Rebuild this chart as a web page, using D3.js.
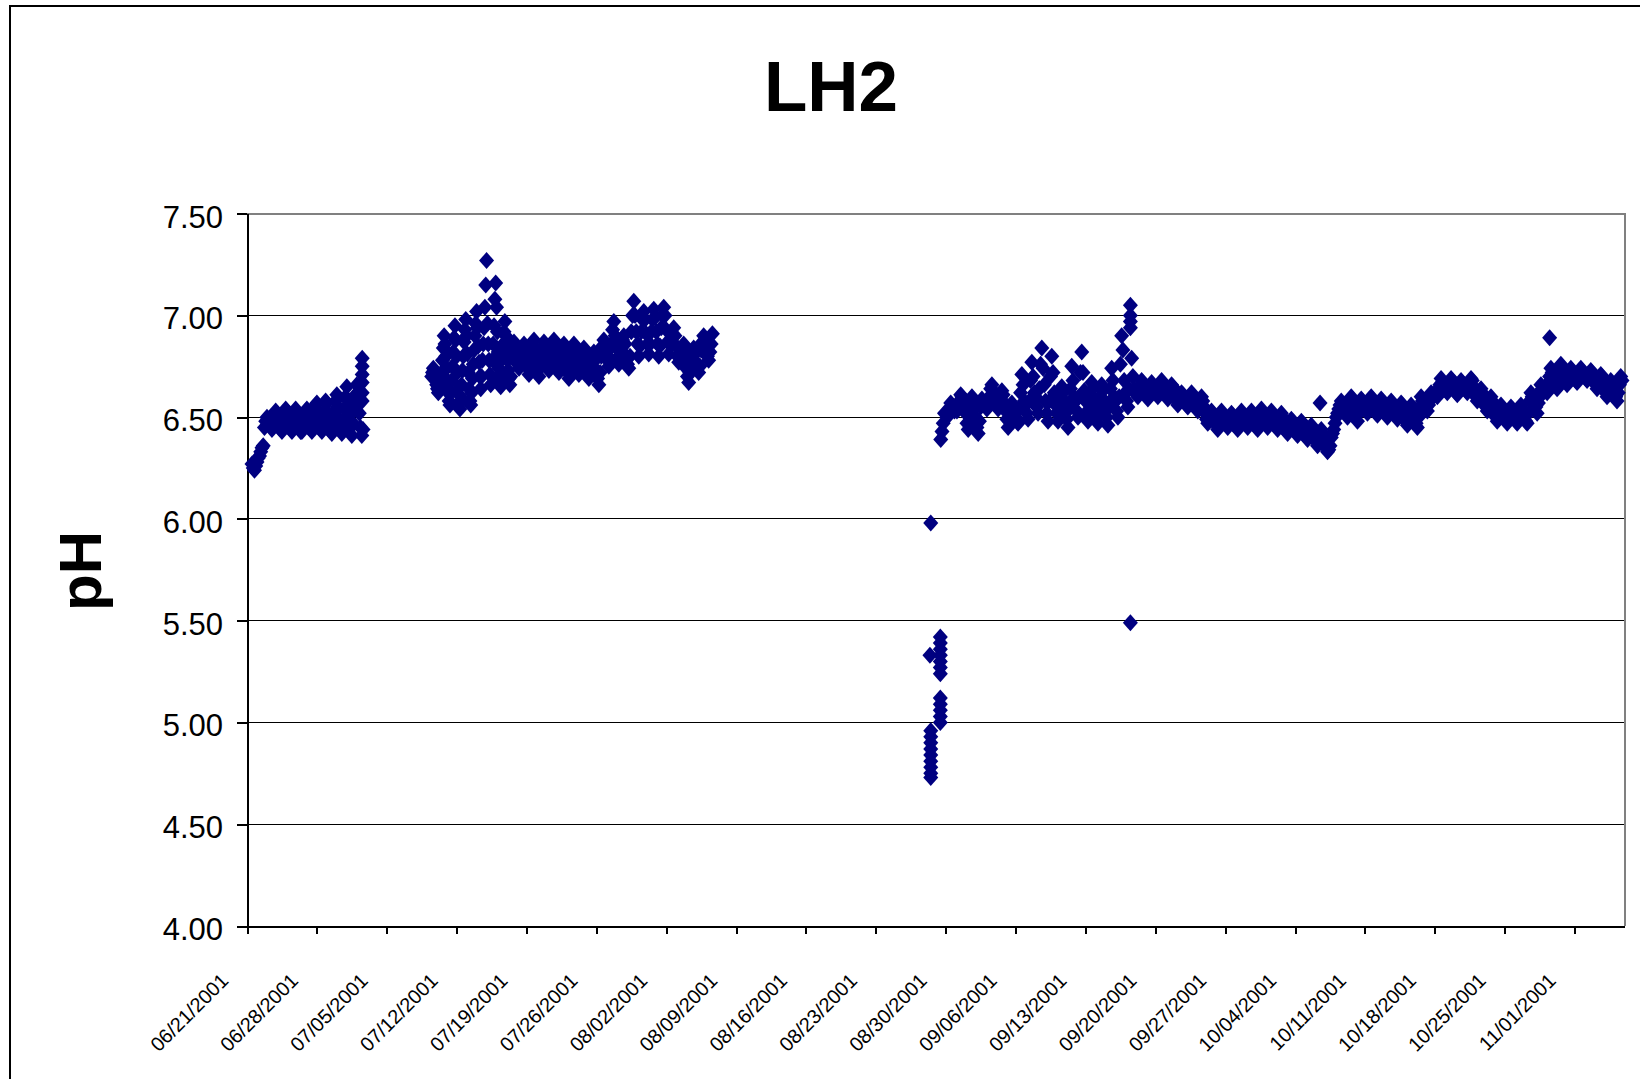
<!DOCTYPE html>
<html>
<head>
<meta charset="utf-8">
<script src="https://cdn.jsdelivr.net/npm/d3@7"></script>
<style>
body { margin: 0; background: #fff; }
text { font-family: Arial, "Liberation Sans", sans-serif; fill: #000; }
</style>
</head>
<body>
<script>
var width = 1640,
    height = 1079;

var chartTitle = "LH2",
    yTitle = "pH";

var yTicks = [4.0, 4.5, 5.0, 5.5, 6.0, 6.5, 7.0, 7.5];
var xTickLabels = ["06/21/2001", "06/28/2001", "07/05/2001", "07/12/2001", "07/19/2001",
                   "07/26/2001", "08/02/2001", "08/09/2001", "08/16/2001", "08/23/2001",
                   "08/30/2001", "09/06/2001", "09/13/2001", "09/20/2001", "09/27/2001",
                   "10/04/2001", "10/11/2001", "10/18/2001", "10/25/2001", "11/01/2001"];
var xEnd = "11/06/2001";

// probe runs: first reading time, hours between readings, readings (one row per day)
var run1Start = "2001-06-21 12:00", run1Step = 3;
var run1 = [6.27, 6.25, 6.24, 6.26, 6.28, 6.30, 6.31, 6.33,
            6.35, 6.36, 6.45, 6.48, 6.50, 6.49, 6.47, 6.46,
            6.44, 6.47, 6.50, 6.53, 6.52, 6.49, 6.46, 6.44,
            6.43, 6.46, 6.50, 6.54, 6.53, 6.49, 6.46, 6.44,
            6.43, 6.47, 6.51, 6.54, 6.52, 6.48, 6.45, 6.43,
            6.43, 6.46, 6.50, 6.53, 6.54, 6.50, 6.46, 6.44,
            6.43, 6.47, 6.52, 6.56, 6.57, 6.52, 6.47, 6.44,
            6.43, 6.48, 6.53, 6.58, 6.57, 6.52, 6.47, 6.43,
            6.42, 6.47, 6.53, 6.58, 6.61, 6.55, 6.49, 6.44,
            6.42, 6.48, 6.54, 6.60, 6.65, 6.58, 6.51, 6.45,
            6.41, 6.47, 6.54, 6.61, 6.66, 6.59, 6.52, 6.45,
            6.41, 6.44];

var run2aStart = "2001-07-09 12:00", run2aStep = 2;
var run2a = [6.70, 6.72, 6.74, 6.73, 6.71, 6.68, 6.66, 6.64, 6.62, 6.63, 6.65, 6.68,
             6.72, 6.78, 6.84, 6.90, 6.86, 6.80, 6.74, 6.68, 6.62, 6.58, 6.56, 6.62,
             6.68, 6.75, 6.82, 6.89, 6.95, 6.88, 6.80, 6.72, 6.64, 6.57, 6.54, 6.60,
             6.66, 6.73, 6.80, 6.87, 6.93, 6.98, 6.90, 6.81, 6.72, 6.64, 6.58, 6.56,
             6.62, 6.69, 6.76, 6.83, 6.90, 6.96, 7.02, 6.94, 6.85, 6.77, 6.70, 6.64,
             6.70, 6.78, 6.86, 6.94, 7.04, 7.15, 7.27, 6.96, 6.86, 6.78, 6.71, 6.66,
             6.70, 6.78, 6.86, 6.95, 7.08, 7.16, 7.04, 6.92, 6.82, 6.74, 6.68, 6.65,
             6.72, 6.79, 6.86, 6.92, 6.97, 6.90, 6.84, 6.78, 6.73, 6.69, 6.66, 6.70];

var run2bStart = "2001-07-17 12:00", run2bStep = 3;
var run2b = [6.80, 6.84, 6.87, 6.85, 6.80, 6.76, 6.74, 6.77,
             6.79, 6.83, 6.86, 6.83, 6.78, 6.74, 6.71, 6.75,
             6.80, 6.85, 6.88, 6.84, 6.78, 6.73, 6.70, 6.75,
             6.80, 6.84, 6.87, 6.85, 6.80, 6.76, 6.73, 6.76,
             6.81, 6.86, 6.88, 6.84, 6.79, 6.75, 6.72, 6.76,
             6.79, 6.83, 6.86, 6.82, 6.76, 6.72, 6.69, 6.74,
             6.80, 6.84, 6.86, 6.83, 6.78, 6.74, 6.71, 6.75,
             6.77, 6.81, 6.84, 6.80, 6.75, 6.71, 6.69, 6.73,
             6.75, 6.79, 6.82, 6.78, 6.73, 6.69, 6.66, 6.72,
             6.80, 6.85, 6.88, 6.86, 6.82, 6.78, 6.75, 6.79,
             6.86, 6.93, 6.97, 6.90, 6.84, 6.79, 6.76, 6.80,
             6.84, 6.88, 6.90, 6.86, 6.80, 6.76, 6.74, 6.80,
             6.92, 7.00, 7.07, 7.00, 6.92, 6.86, 6.80, 6.85,
             6.92, 6.98, 7.02, 6.98, 6.91, 6.86, 6.81, 6.86,
             6.92, 6.98, 7.03, 6.99, 6.92, 6.86, 6.80, 6.85,
             6.94, 7.00, 7.04, 7.00, 6.93, 6.87, 6.81, 6.86,
             6.86, 6.91, 6.94, 6.90, 6.85, 6.80, 6.77, 6.80,
             6.78, 6.83, 6.86, 6.80, 6.74, 6.70, 6.67, 6.72,
             6.78, 6.82, 6.84, 6.81, 6.77, 6.74, 6.72, 6.75,
             6.83, 6.87, 6.90, 6.88, 6.84, 6.80, 6.78, 6.82,
             6.86, 6.91];

var run3Start = "2001-08-29 12:00", run3Step = 3;
var run3 = [6.39, 6.43, 6.47, 6.52,
            6.52, 6.50, 6.51, 6.54, 6.57, 6.56, 6.55, 6.53,
            6.54, 6.53, 6.55, 6.58, 6.61, 6.60, 6.58, 6.56,
            6.52, 6.47, 6.44, 6.50, 6.56, 6.60, 6.58, 6.55,
            6.50, 6.45, 6.42, 6.48, 6.55, 6.59, 6.57, 6.56,
            6.56, 6.54, 6.56, 6.60, 6.64, 6.66, 6.63, 6.60,
            6.58, 6.56, 6.54, 6.57, 6.60, 6.63, 6.61, 6.57,
            6.53, 6.49, 6.45, 6.48, 6.53, 6.57, 6.55, 6.52,
            6.50, 6.48, 6.47, 6.54, 6.62, 6.71, 6.66, 6.58,
            6.56, 6.52, 6.49, 6.58, 6.68, 6.77, 6.70, 6.62,
            6.60, 6.55, 6.52, 6.64, 6.76, 6.84, 6.74, 6.66,
            6.58, 6.52, 6.48, 6.58, 6.70, 6.80, 6.72, 6.62,
            6.56, 6.52, 6.48, 6.52, 6.58, 6.65, 6.62, 6.58,
            6.54, 6.49, 6.45, 6.54, 6.64, 6.75, 6.68, 6.60,
            6.58, 6.53, 6.50, 6.60, 6.72, 6.82, 6.72, 6.63,
            6.58, 6.52, 6.48, 6.54, 6.61, 6.67, 6.64, 6.59,
            6.55, 6.50, 6.47, 6.52, 6.60, 6.66, 6.63, 6.58,
            6.55, 6.50, 6.46, 6.55, 6.64, 6.74, 6.68, 6.60,
            6.58, 6.53, 6.50, 6.60, 6.76, 6.90, 6.83, 6.68,
            6.62, 6.58, 6.55, 6.64, 6.97, 6.79, 6.70, 6.64,
            6.63, 6.61, 6.60, 6.62, 6.65, 6.68, 6.67, 6.64,
            6.62, 6.60, 6.59, 6.61, 6.64, 6.67, 6.66, 6.63,
            6.63, 6.61, 6.60, 6.62, 6.65, 6.68, 6.66, 6.64,
            6.62, 6.60, 6.59, 6.61, 6.64, 6.66, 6.65, 6.62,
            6.60, 6.58, 6.56, 6.57, 6.59, 6.62, 6.61, 6.59,
            6.58, 6.56, 6.55, 6.57, 6.60, 6.62, 6.60, 6.58,
            6.57, 6.55, 6.53, 6.55, 6.58, 6.60, 6.58, 6.55,
            6.52, 6.49, 6.47, 6.48, 6.50, 6.53, 6.52, 6.50,
            6.48, 6.46, 6.44, 6.46, 6.49, 6.53, 6.51, 6.49,
            6.48, 6.46, 6.45, 6.47, 6.50, 6.52, 6.51, 6.49,
            6.48, 6.45, 6.44, 6.46, 6.49, 6.53, 6.51, 6.49,
            6.49, 6.46, 6.45, 6.47, 6.50, 6.53, 6.51, 6.49,
            6.48, 6.45, 6.44, 6.47, 6.51, 6.54, 6.52, 6.49,
            6.49, 6.46, 6.45, 6.48, 6.51, 6.53, 6.51, 6.49,
            6.48, 6.45, 6.44, 6.46, 6.49, 6.52, 6.50, 6.48,
            6.46, 6.43, 6.42, 6.44, 6.47, 6.49, 6.48, 6.46,
            6.44, 6.42, 6.41, 6.43, 6.45, 6.48, 6.47, 6.44,
            6.42, 6.40, 6.39, 6.41, 6.43, 6.46, 6.44, 6.42,
            6.40, 6.38, 6.36, 6.39, 6.57, 6.44, 6.42, 6.39,
            6.37, 6.35, 6.33, 6.34, 6.36, 6.40, 6.42, 6.44,
            6.47, 6.50, 6.52, 6.54, 6.56, 6.58, 6.56, 6.55,
            6.55, 6.52, 6.50, 6.53, 6.57, 6.60, 6.59, 6.56,
            6.55, 6.51, 6.48, 6.52, 6.56, 6.59, 6.58, 6.56,
            6.55, 6.53, 6.52, 6.54, 6.57, 6.60, 6.59, 6.56,
            6.55, 6.52, 6.51, 6.54, 6.57, 6.59, 6.58, 6.56,
            6.54, 6.52, 6.50, 6.52, 6.55, 6.58, 6.57, 6.55,
            6.53, 6.51, 6.49, 6.51, 6.54, 6.57, 6.56, 6.53,
            6.51, 6.48, 6.46, 6.49, 6.53, 6.56, 6.54, 6.52,
            6.50, 6.47, 6.45, 6.50, 6.55, 6.60, 6.58, 6.55,
            6.57, 6.55, 6.53, 6.56, 6.60, 6.62, 6.61, 6.60,
            6.62, 6.61, 6.60, 6.63, 6.66, 6.69, 6.67, 6.65,
            6.65, 6.63, 6.62, 6.64, 6.67, 6.69, 6.68, 6.66,
            6.64, 6.62, 6.61, 6.63, 6.66, 6.68, 6.67, 6.65,
            6.65, 6.63, 6.62, 6.64, 6.67, 6.69, 6.68, 6.65,
            6.62, 6.60, 6.58, 6.60, 6.63, 6.64, 6.62, 6.60,
            6.57, 6.55, 6.53, 6.55, 6.58, 6.60, 6.58, 6.55,
            6.52, 6.50, 6.48, 6.50, 6.53, 6.56, 6.54, 6.52,
            6.51, 6.49, 6.47, 6.49, 6.52, 6.55, 6.54, 6.51,
            6.51, 6.48, 6.47, 6.49, 6.52, 6.56, 6.54, 6.51,
            6.50, 6.48, 6.47, 6.52, 6.58, 6.62, 6.60, 6.57,
            6.58, 6.55, 6.52, 6.57, 6.62, 6.66, 6.64, 6.62,
            6.65, 6.63, 6.62, 6.66, 6.70, 6.74, 6.72, 6.68,
            6.70, 6.67, 6.64, 6.68, 6.72, 6.76, 6.74, 6.71,
            6.70, 6.68, 6.66, 6.68, 6.71, 6.74, 6.73, 6.70,
            6.70, 6.68, 6.67, 6.69, 6.72, 6.74, 6.73, 6.71,
            6.71, 6.69, 6.68, 6.69, 6.71, 6.73, 6.72, 6.70,
            6.68, 6.66, 6.64, 6.66, 6.69, 6.71, 6.70, 6.67,
            6.65, 6.62, 6.60, 6.61, 6.64, 6.68, 6.66, 6.64,
            6.62, 6.60, 6.58, 6.62, 6.66, 6.70, 6.68];

// groups of readings logged close together
var burstTimes = ["2001-07-02 13:00", "2001-08-28 10:00", "2001-08-28 12:00",
                  "2001-08-29 11:00", "2001-09-17 12:00", "2001-10-29 12:00"];
var burstValues = [[6.79, 6.75, 6.71, 6.67, 6.62, 6.58],
                   [5.33],
                   [5.98, 4.96, 4.93, 4.90, 4.87, 4.84, 4.81, 4.78, 4.75, 4.73],
                   [5.42, 5.39, 5.36, 5.33, 5.30, 5.27, 5.24, 5.12, 5.09, 5.06, 5.03, 5.00],
                   [7.05, 7.00, 6.94, 5.49],
                   [6.89]];

var parseTime = d3.utcParse("%Y-%m-%d %H:%M"),
    parseDay = d3.utcParse("%m/%d/%Y");

function readings(start, stepHours, values) {
    var t0 = parseTime(start);
    return values.map(function(v, i) {
        return {date: d3.utcHour.offset(t0, i * stepHours), value: v};
    });
}

var points = readings(run1Start, run1Step, run1)
    .concat(readings(run2aStart, run2aStep, run2a))
    .concat(readings(run2bStart, run2bStep, run2b))
    .concat(readings(run3Start, run3Step, run3));
burstTimes.forEach(function(t, i) {
    burstValues[i].forEach(function(v) {
        points.push({date: parseTime(t), value: v});
    });
});

var plotLeft = 247, plotRight = 1624.5, plotTop = 213.7, plotBottom = 926;

var x = d3.scaleUtc()
    .domain([parseDay(xTickLabels[0]), parseDay(xEnd)])
    .range([plotLeft, plotRight]);
var y = d3.scaleLinear()
    .domain([yTicks[0], yTicks[yTicks.length - 1]])
    .range([plotBottom, plotTop]);

var svg = d3.select("body").append("svg")
    .attr("width", width)
    .attr("height", height);

svg.append("rect")
    .attr("width", width).attr("height", height)
    .attr("fill", "#fff");

// chart area border (runs off the right and bottom of the picture)
svg.append("rect")
    .attr("x", 10).attr("y", 6)
    .attr("width", 1660).attr("height", 1120)
    .attr("fill", "none")
    .attr("stroke", "#000")
    .attr("stroke-width", 2);

svg.append("text")
    .attr("x", 831).attr("y", 111)
    .attr("text-anchor", "middle")
    .style("font-size", "71px")
    .style("font-weight", "bold")
    .text(chartTitle);

svg.append("text")
    .attr("transform", "translate(101,571) rotate(-90)")
    .attr("text-anchor", "middle")
    .style("font-size", "60px")
    .style("font-weight", "bold")
    .text(yTitle);

// gridlines
svg.append("g")
    .selectAll("line")
    .data(yTicks.slice(1, -1))
    .enter().append("line")
    .attr("x1", plotLeft).attr("x2", plotRight)
    .attr("y1", function(d) { return y(d); })
    .attr("y2", function(d) { return y(d); })
    .attr("stroke", "#000")
    .attr("stroke-width", 1)
    .attr("shape-rendering", "crispEdges");

// plot area frame, top and right
svg.append("path")
    .attr("d", "M" + plotLeft + "," + plotTop + "H" + plotRight + "V" + plotBottom)
    .attr("fill", "none")
    .attr("stroke", "#808080")
    .attr("stroke-width", 2)
    .attr("shape-rendering", "crispEdges");

var yAxis = svg.append("g")
    .attr("transform", "translate(" + plotLeft + ",0)")
    .call(d3.axisLeft(y)
          .tickValues(yTicks)
          .tickSize(10)
          .tickSizeOuter(0)
          .tickPadding(14)
          .tickFormat(d3.format(".2f")));

yAxis.selectAll("text")
    .attr("dy", "0.43em")
    .style("font-size", "31px")
    .style("font-family", "Arial, 'Liberation Sans', sans-serif");

var xAxis = svg.append("g")
    .attr("transform", "translate(0," + plotBottom + ")")
    .call(d3.axisBottom(x)
          .tickValues(xTickLabels.map(parseDay))
          .tickSize(8)
          .tickSizeOuter(0)
          .tickFormat(d3.utcFormat("%m/%d/%Y")));

xAxis.selectAll("text")
    .attr("y", 0)
    .attr("dy", 0)
    .attr("text-anchor", "end")
    .attr("transform", "translate(-18,56) rotate(-45)")
    .style("font-size", "20px")
    .style("font-family", "Arial, 'Liberation Sans', sans-serif");

svg.selectAll(".domain, .tick line")
    .attr("stroke", "#000")
    .attr("stroke-width", 2)
    .attr("shape-rendering", "crispEdges");

// readings, Excel-style diamond marker (a little taller than wide)
var diamond = "M0,-8.5L7.5,0L0,8.5L-7.5,0Z";

svg.append("g")
    .selectAll("path")
    .data(points)
    .enter().append("path")
    .attr("d", diamond)
    .attr("transform", function(d) {
        return "translate(" + x(d.date) + "," + y(d.value) + ")";
    })
    .attr("fill", "#000080");
</script>
</body>
</html>
